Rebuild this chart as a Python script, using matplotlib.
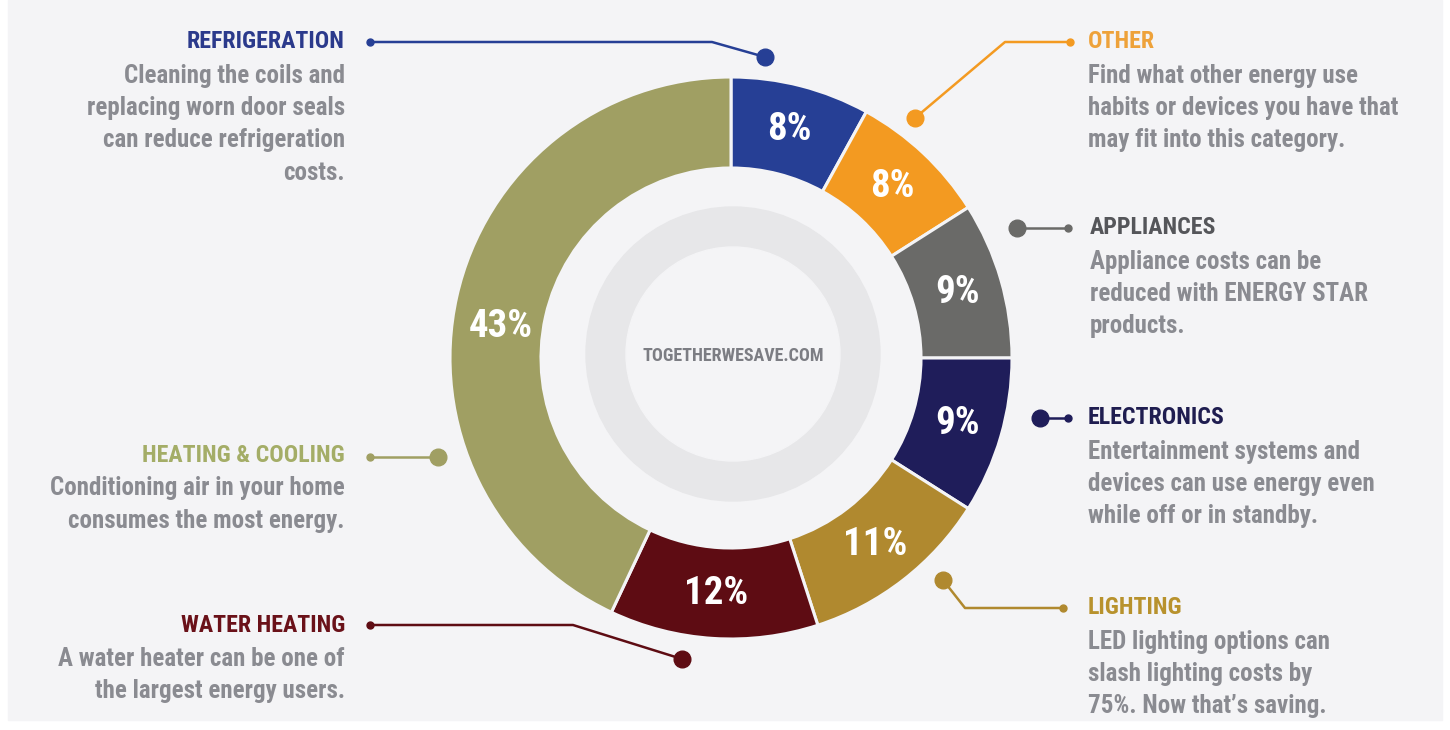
import matplotlib
matplotlib.use("Agg")
import matplotlib.pyplot as plt
from matplotlib import font_manager as fm
from matplotlib.patches import Circle, Rectangle
import numpy as np

# ---------------- data ----------------
categories = ["REFRIGERATION", "OTHER", "APPLIANCES", "ELECTRONICS",
              "LIGHTING", "WATER HEATING", "HEATING & COOLING"]
percents = [8, 8, 9, 9, 11, 12, 43]
wedge_colors = ["#263f95", "#f39a21", "#6a6a68", "#1f1d5a",
                "#b0892f", "#5e0c13", "#a09f63"]
title_colors = ["#2b3a8c", "#eea23a", "#55565a", "#1f1d50",
                "#b8922d", "#6a1119", "#a4ad67"]
descriptions = [
    ["Cleaning the coils and", "replacing worn door seals",
     "can reduce refrigeration", "costs."],
    ["Find what other energy use", "habits or devices you have that",
     "may fit into this category."],
    ["Appliance costs can be", "reduced with ENERGY STAR", "products."],
    ["Entertainment systems and", "devices can use energy even",
     "while off or in standby."],
    ["LED lighting options can", "slash lighting costs by",
     "75%. Now that\u2019s saving."],
    ["A water heater can be one of", "the largest energy users."],
    ["Conditioning air in your home", "consumes the most energy."],
]
center_text = "TOGETHERWESAVE.COM"

# ---------------- font choice ----------------
names = {(f.name, f.stretch) for f in fm.fontManager.ttflist}
fam_names = {f.name for f in fm.fontManager.ttflist}
STRETCH = "normal"
FONT = "DejaVu Sans"
for cand in ["Roboto Condensed", "Liberation Sans Narrow", "Open Sans Condensed",
             "Noto Sans Condensed", "DejaVu Sans Condensed"]:
    if cand in fam_names:
        FONT = cand
        break
else:
    for (n, s) in names:
        if n in ("DejaVu Sans", "Noto Sans", "Roboto", "Open Sans") and s in ("condensed", "semi-condensed", 75, 87.5):
            FONT, STRETCH = n, "condensed"
            break
plt.rcParams["font.family"] = [FONT, "DejaVu Sans"]

# ---------------- layout ----------------
W, H = 1450, 730
BG = "#f4f4f6"

fig = plt.figure(figsize=(W / 100, H / 100), dpi=100, facecolor="white")
ax = fig.add_axes([0, 0, 1, 1])
renderer = fig.canvas.get_renderer()

def fit_size(sample, target_px, base):
    t = fig.text(0, 0, sample, fontsize=base, fontweight="bold", fontstretch=STRETCH)
    w = t.get_window_extent(renderer).width
    t.remove()
    return min(base, base * target_px / w)

body_fs = fit_size("habits or devices you have that", 328, 18)
title_fs = fit_size("REFRIGERATION", 158, 18)
pct_fs = fit_size("43%", 72, 28)
ctr_fs = fit_size(center_text, 192, 13)

def Y(y):
    return H - y

cx, cy = 731, Y(358)
R, ring_w = 281, 91

wedges, _ = ax.pie(percents, colors=wedge_colors, startangle=90, counterclock=False,
                   center=(cx, cy), radius=R,
                   wedgeprops=dict(width=ring_w, edgecolor=BG, linewidth=2.2))
ax.set_xlim(0, W)
ax.set_ylim(0, H)
ax.set_aspect("equal")
ax.axis("off")
ax.add_patch(Rectangle((8, 10), W - 16, H - 10, color=BG, zorder=-10))

# centre decoration
ax.add_patch(Circle((cx + 2, cy + 4), 147, color="#e7e7e9", zorder=1))
ax.add_patch(Circle((cx + 2, cy + 4), 107, color=BG, zorder=2))
ax.text(cx + 2, cy + 2, center_text, ha="center", va="center", fontsize=ctr_fs,
        fontweight="bold", fontstretch=STRETCH, color="#7c7d83", zorder=3)

# percentage labels
label_shift = {6: (0, -20)}
cum = np.cumsum([0] + percents)
r_lab = R - ring_w / 2
for i, p in enumerate(percents):
    mid = 90 - (cum[i] + p / 2) / 100 * 360
    x = cx + r_lab * np.cos(np.radians(mid))
    y = cy + r_lab * np.sin(np.radians(mid))
    dx, dy = label_shift.get(i, (0, 0))
    ax.text(x + dx, y + dy, f"{p}%", ha="center", va="center", fontsize=pct_fs,
            fontweight="bold", fontstretch=STRETCH, color="white", zorder=4)

# connectors: list of points (pixel coords), first = small dot end, last = big dot
connectors = [
    [(370, 42), (712, 42), (765, 57)],
    [(1070, 42), (1005, 42), (915, 118)],
    [(1068, 228), (1017, 228)],
    [(1068, 418), (1040, 418)],
    [(1063, 608), (965, 608), (943, 580)],
    [(370, 625), (573, 625), (682, 659)],
    [(370, 457), (438, 457)],
]
text_pos = [
    (345, 42, "right"), (1088, 42, "left"), (1090, 228, "left"),
    (1088, 418, "left"), (1088, 608, "left"), (345, 625, "right"),
    (345, 455, "right"),
]
line_gap = 32.5
for i in range(len(categories)):
    pts = connectors[i]
    xs = [p[0] for p in pts]
    ys = [Y(p[1]) for p in pts]
    ax.plot(xs, ys, color=wedge_colors[i], lw=1.8, zorder=5, solid_capstyle="round")
    ax.plot(xs[0], ys[0], "o", ms=5, color=wedge_colors[i], zorder=6)
    ax.plot(xs[-1], ys[-1], "o", ms=12, color=wedge_colors[i], zorder=6)
    tx, ty, ha = text_pos[i]
    ax.text(tx, Y(ty), categories[i], ha=ha, va="center", fontsize=title_fs,
            fontweight="bold", fontstretch=STRETCH, color=title_colors[i])
    for j, line in enumerate(descriptions[i]):
        ax.text(tx, Y(ty + line_gap * (j + 1) + 1), line, ha=ha, va="center",
                fontsize=body_fs, fontweight="bold", fontstretch=STRETCH,
                color="#8a8b91")

fig.savefig("out.png", dpi=100, facecolor="white")
